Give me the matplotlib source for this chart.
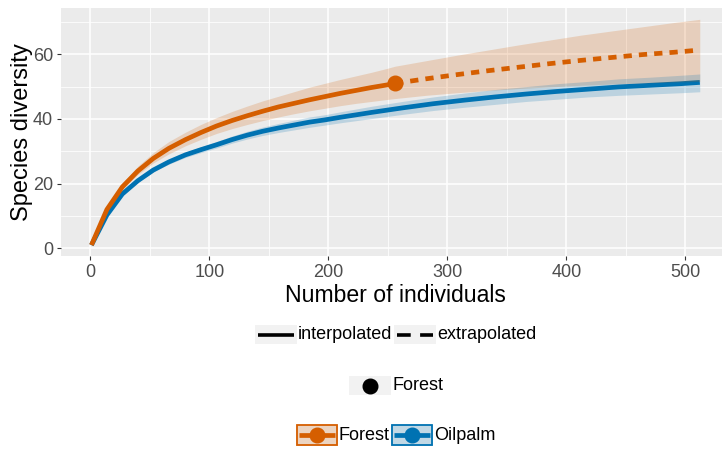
import matplotlib
matplotlib.use("Agg")
import matplotlib.pyplot as plt
from matplotlib.patches import Rectangle
from matplotlib.ticker import FixedLocator

plt.rcParams['font.family'] = ['Liberation Sans', 'DejaVu Sans']

# ---------------- data ----------------
forest_x_interp = [1, 14, 27, 40, 53, 66, 80, 93, 106, 119, 132, 145, 158, 171, 184, 197, 210, 223, 236, 249, 256]
forest_y_interp = [1.0, 12.0, 19.0, 23.9, 27.8, 30.9, 33.6, 35.8, 37.8, 39.5, 41.0, 42.4, 43.7, 44.8, 45.9, 46.9, 47.9, 48.8, 49.7, 50.5, 51.0]
forest_x_extrap = [256, 282, 308, 334, 360, 386, 412, 438, 464, 490, 512]
forest_y_extrap = [51.0, 52.4, 53.7, 54.9, 56.0, 57.1, 58.1, 59.0, 59.9, 60.6, 61.3]
forest_band_x = [1, 14, 27, 40, 53, 66, 80, 93, 106, 119, 132, 145, 158, 171, 184, 197, 210, 223, 236, 249, 256,
                 282, 308, 334, 360, 386, 412, 438, 464, 490, 512]
forest_lower = [1.0, 11.4, 18.2, 22.8, 26.4, 29.2, 31.7, 33.7, 35.5, 37.0, 38.3, 39.5, 40.6, 41.6, 42.5, 43.3, 44.1, 44.8, 45.4, 46.0, 46.3,
                47.3, 48.1, 48.8, 49.4, 49.9, 50.4, 50.8, 51.1, 51.4, 51.6]
forest_upper = [1.0, 12.6, 20.1, 25.4, 29.6, 33.0, 35.9, 38.3, 40.4, 42.3, 44.0, 45.6, 47.0, 48.4, 49.8, 51.0, 52.2, 53.3, 54.4, 55.6, 56.3,
                58.0, 59.7, 61.3, 62.9, 64.4, 65.9, 67.2, 68.5, 69.8, 70.8]
forest_obs_x = [256]
forest_obs_y = [51.0]

oilpalm_x = [1, 14, 27, 40, 53, 66, 80, 93, 106, 119, 132, 145, 158, 171, 184, 197, 210, 236, 262, 288, 314, 340, 366, 392, 418, 444, 470, 496, 512]
oilpalm_y = [1.0, 10.3, 16.8, 20.9, 24.2, 26.7, 28.9, 30.5, 32.0, 33.6, 35.0, 36.2, 37.2, 38.1, 39.0, 39.7, 40.5, 42.0, 43.4, 44.7, 45.8, 46.8, 47.7, 48.5, 49.2, 49.9, 50.4, 50.9, 51.3]
oilpalm_lower = [1.0, 10.1, 16.4, 20.4, 23.6, 26.0, 28.1, 29.6, 31.0, 32.5, 33.8, 34.9, 35.8, 36.6, 37.4, 38.1, 38.8, 40.1, 41.4, 42.6, 43.6, 44.5, 45.4, 46.1, 46.8, 47.3, 47.7, 48.1, 48.4]
oilpalm_upper = [1.0, 10.5, 17.2, 21.4, 24.8, 27.4, 29.7, 31.4, 33.0, 34.7, 36.2, 37.5, 38.6, 39.6, 40.6, 41.3, 42.2, 43.9, 45.4, 46.8, 48.0, 49.1, 50.0, 50.9, 51.6, 52.4, 52.9, 53.5, 53.9]

x_ticks = [0, 100, 200, 300, 400, 500]
y_ticks = [0, 20, 40, 60]
x_minor = [50, 150, 250, 350, 450]
y_minor = [10, 30, 50, 70]

x_title = "Number of individuals"
y_title = "Species diversity"
method_labels = ["interpolated", "extrapolated"]
shape_labels = ["Forest"]
site_labels = ["Forest", "Oilpalm"]

ORANGE = "#D55E00"
BLUE = "#0072B2"

# ---------------- figure ----------------
W, H = 722, 450
fig = plt.figure(figsize=(W / 100, H / 100), dpi=100)
fig.patch.set_facecolor("white")

left_px, right_px, top_px, bot_px = 61.0, 730.2, 8.0, 256.4
ax = fig.add_axes([left_px / W, 1 - bot_px / H, (right_px - left_px) / W, (bot_px - top_px) / H])
ax.set_facecolor("#EBEBEB")
ax.set_xlim(-24.55, 537.55)
ax.set_ylim(-2.5, 74.3)

ax.xaxis.set_major_locator(FixedLocator(x_ticks))
ax.yaxis.set_major_locator(FixedLocator(y_ticks))
ax.xaxis.set_minor_locator(FixedLocator(x_minor))
ax.yaxis.set_minor_locator(FixedLocator(y_minor))
ax.grid(which="major", color="white", linewidth=1.1)
ax.grid(which="minor", color="white", linewidth=0.55)
ax.set_axisbelow(True)
for s in ax.spines.values():
    s.set_visible(False)
ax.tick_params(which="major", length=3.2, width=0.8, color="#333333",
               labelcolor="#4D4D4D", labelsize=13, pad=2.5)
ax.tick_params(which="minor", length=0)

lw = 3.4
ax.plot(oilpalm_x, oilpalm_y, color=BLUE, lw=lw, solid_capstyle="butt", zorder=2)
ax.plot(forest_x_interp, forest_y_interp, color=ORANGE, lw=lw, solid_capstyle="butt", zorder=2)
ax.plot(forest_x_extrap, forest_y_extrap, color=ORANGE, lw=lw, linestyle=(0, (1.75, 1.5)),
        dash_capstyle="butt", zorder=2)
ax.plot(forest_obs_x, forest_obs_y, "o", color=ORANGE, markersize=10.5, zorder=3)
ax.fill_between(forest_band_x, forest_lower, forest_upper, color=ORANGE, alpha=0.2, lw=0, zorder=4)
ax.fill_between(oilpalm_x, oilpalm_lower, oilpalm_upper, color=BLUE, alpha=0.2, lw=0, zorder=4)

ax.set_xlabel(x_title, fontsize=16.6, labelpad=2, color="black")
ax.set_ylabel(y_title, fontsize=17, labelpad=0, color="black")

# ---------------- legends (pixel overlay) ----------------
lax = fig.add_axes([0, 0, 1, 1], zorder=10)
lax.set_xlim(0, W)
lax.set_ylim(H, 0)
lax.axis("off")
fs_leg = 13
KEYBG = "#F2F2F2"

# legend 1: method
y1 = 334.5
lax.add_patch(Rectangle((255, 325), 42, 19, facecolor=KEYBG, edgecolor="none"))
lax.plot([258, 294], [y1, y1], color="black", lw=2.6, solid_capstyle="butt")
lax.text(298, y1, method_labels[0], fontsize=fs_leg, va="center", ha="left", color="black")
lax.add_patch(Rectangle((394, 325), 42, 19, facecolor=KEYBG, edgecolor="none"))
lax.plot([397, 433], [y1, y1], color="black", lw=2.6, linestyle=(0, (3.8, 2.6)), dash_capstyle="butt")
lax.text(437, y1, method_labels[1], fontsize=fs_leg, va="center", ha="left", color="black")

# legend 2: observed point
y2 = 385.5
lax.add_patch(Rectangle((349, 376), 42, 19, facecolor=KEYBG, edgecolor="none"))
lax.plot([370], [y2], "o", color="black", markersize=10.5)
lax.text(393, y2, shape_labels[0], fontsize=fs_leg, va="center", ha="left", color="black")

# legend 3: sites
y3 = 435
for (x0, col, lab, tx) in [(296, ORANGE, site_labels[0], 339), (391, BLUE, site_labels[1], 434)]:
    lax.add_patch(Rectangle((x0, 424.5), 42, 21, facecolor=KEYBG, edgecolor="none"))
    lax.add_patch(Rectangle((x0, 424.5), 42, 21, facecolor=col, alpha=0.2, edgecolor="none"))
    lax.add_patch(Rectangle((x0 + 0.8, 425.3), 40.4, 19.4, facecolor="none", edgecolor=col, lw=1.3))
    lax.plot([x0 + 3, x0 + 39], [y3, y3], color=col, lw=3.4, solid_capstyle="butt")
    lax.plot([x0 + 21], [y3], "o", color=col, markersize=10.5)
    lax.text(tx, y3, lab, fontsize=fs_leg, va="center", ha="left", color="black")

fig.savefig("out.png", dpi=100)
